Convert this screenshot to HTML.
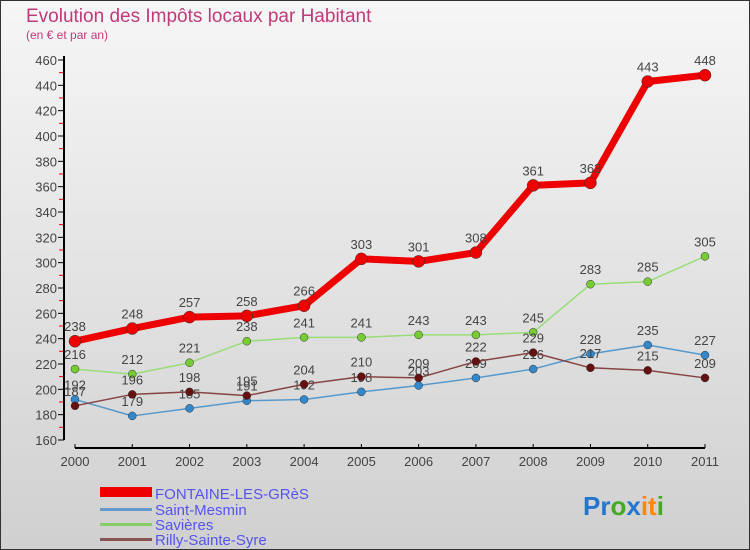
<!DOCTYPE html>
<html><head><meta charset="utf-8"><style>
body{margin:0;width:750px;height:550px;overflow:hidden;font-family:"Liberation Sans",sans-serif}
#wrap{position:absolute;left:0;top:0;width:748px;height:548px;border:1px solid #333;background:linear-gradient(#f6f6f6,#d0d0d0)}
</style></head><body>
<div id="wrap">
<svg id="svg" width="750" height="550" style="position:absolute;left:-1px;top:-1px">
<text x="26" y="22" font-size="19" fill="#c03a7a">Evolution des Impôts locaux par Habitant</text>
<text x="26" y="39" font-size="12" fill="#c03a7a">(en € et par an)</text>
<g id="axes"></g><g id="series"></g>
<g>
<rect x="100" y="487" width="52" height="10" fill="#e00"/>
<text x="155" y="499" font-size="15" fill="#5555ee">FONTAINE-LES-GRèS</text>
<rect x="100" y="508" width="52" height="3" fill="#6699cc"/>
<text x="155" y="515" font-size="15" fill="#5555ee">Saint-Mesmin</text>
<rect x="100" y="523" width="52" height="3" fill="#88cc66"/>
<text x="155" y="530" font-size="15" fill="#5555ee">Savières</text>
<rect x="100" y="538" width="52" height="3" fill="#885555"/>
<text x="155" y="545" font-size="15" fill="#5555ee">Rilly-Sainte-Syre</text>
</g>
<text x="583" y="515" font-size="26" font-weight="bold"><tspan fill="#2277cc">Pr</tspan><tspan fill="#44aa22">o</tspan><tspan fill="#2277cc">x</tspan><tspan fill="#ff8800">it</tspan><tspan fill="#44aa22">i</tspan></text>
</svg></div>
<script>
const years=["2000","2001","2002","2003","2004","2005","2006","2007","2008","2009","2010","2011"];
const yTicks=[160,180,200,220,240,260,280,300,320,340,360,380,400,420,440,460];
const fontaine=[238,248,257,258,266,303,301,308,361,363,443,448];
const saintMesmin=[192,179,185,191,192,198,203,209,216,228,235,227];
const savieres=[216,212,221,238,241,241,243,243,245,283,285,305];
const rilly=[187,196,198,195,204,210,209,222,229,217,215,209];
const NS="http://www.w3.org/2000/svg";
const xS=i=>75+i*(630/11), yS=v=>440-(v-160)*380/300;
function mk(t,a,p){const e=document.createElementNS(NS,t);for(const k in a)e.setAttribute(k,a[k]);p.appendChild(e);return e;}
const ax=document.getElementById('axes');
let yl=mk('line',{x1:64,y1:56,x2:64,y2:440,stroke:'#000','stroke-width':2},ax);


let xl=mk('line',{x1:75,y1:448,x2:705,y2:448,stroke:'#000','stroke-width':2},ax);


yTicks.forEach((v,i)=>{const y=yS(v);
 mk('line',{x1:58,y1:y,x2:64,y2:y,stroke:'#000'},ax);
 if(i<yTicks.length-1)mk('line',{x1:59,y1:y-12.7,x2:63,y2:y-12.7,stroke:'#e00'},ax);
 const t=mk('text',{x:57,y:y+5,'font-size':13,fill:'#444','text-anchor':'end'},ax);t.textContent=v;
 
 });
years.forEach((yr,i)=>{const x=xS(i);
 mk('line',{x1:x,y1:444,x2:x,y2:448,stroke:'#000'},ax);
 const t=mk('text',{x:x,y:466,'font-size':13,fill:'#444','text-anchor':'middle'},ax);t.textContent=yr;
 
 });
const sg=document.getElementById('series');
function draw(d,name,col,w,r,dot){
 const g=mk('g',{},sg);
 
 
 mk('polyline',{points:d.map((v,i)=>xS(i)+','+yS(v)).join(' '),fill:'none',stroke:col,'stroke-width':w,'stroke-linejoin':'round'},g);
 d.forEach((v,i)=>{const c=mk('circle',{cx:xS(i),cy:yS(v),r:r,fill:dot,stroke:'#333','stroke-width':0.5},g);
  
  
  const t=mk('text',{x:xS(i),y:yS(v)-10,'font-size':13,fill:'#444','text-anchor':'middle'},g);t.textContent=v;
  
  });
}
draw(saintMesmin,'saint-mesmin','#5599cc',1.5,4,'#3388cc');
draw(savieres,'savieres','#99dd77',1.5,4,'#77cc33');
draw(rilly,'rilly','#884444',1.5,4,'#661111');
draw(fontaine,'fontaine','#ee0000',7,6,'#ee0000');
</script>
</body></html>
